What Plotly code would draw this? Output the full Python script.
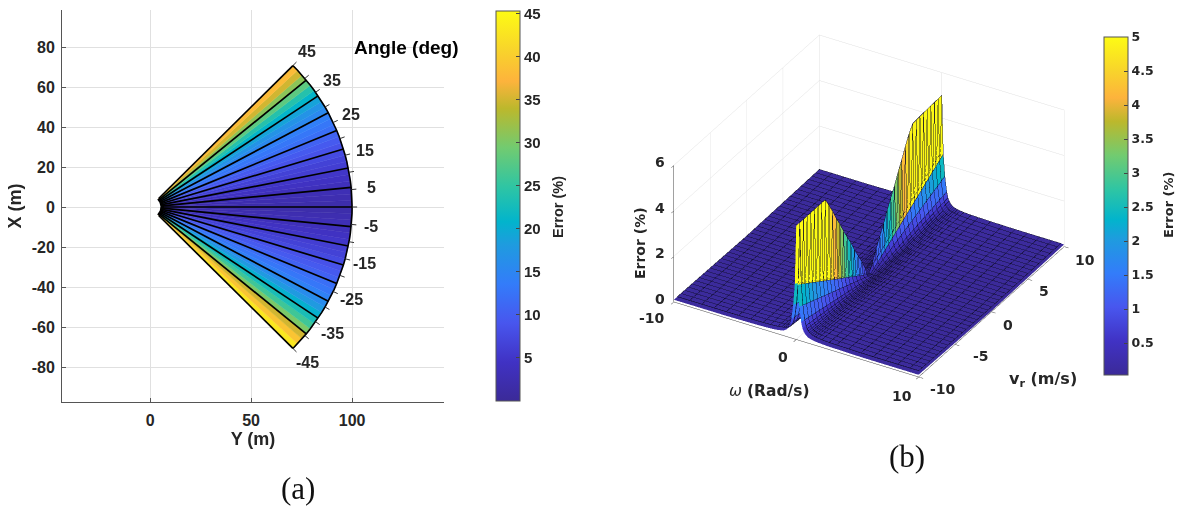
import numpy as np
import plotly.graph_objects as go
from plotly.colors import sample_colorscale

W, H = 1179, 506

# ---------- panel (a) data ----------
band_edges_deg = [-45 + 1.875 * n for n in range(49)]
band_error = [43, 39, 35, 30, 26, 23, 20.5, 18, 16, 14.5, 13, 12,
              10.5, 9.5, 8.5, 7.5, 6.5, 6, 5, 4.3, 3.6, 3, 2.5, 2,
              2, 2.5, 3, 3.6, 4.3, 5, 6, 6.5, 7.5, 8.5, 9.5, 10.5,
              12, 13, 14, 15.5, 17, 19, 21, 24, 28, 31, 35, 38]
ray_angles_deg = [-45 + 5.625 * n for n in range(17)]
arc_tick_deg = [-45, -40, -35, -30, -25, -20, -15, -10, -5, 0, 5, 10, 15, 20, 25, 30, 35, 40, 45]
angle_labels = [45, 35, 25, 15, 5, -5, -15, -25, -35, -45]
r_inner, r_outer = 6, 100
x_ticks_a = [0, 50, 100]
y_ticks_a = [-80, -60, -40, -20, 0, 20, 40, 60, 80]
y_labels_a = ["-80", "-60", "-40", "-20", "0", "20", "40", "60", "80"]
cb_ticks_a = [5, 10, 15, 20, 25, 30, 35, 40, 45]

# ---------- panel (b) data ----------
omega = [-10, -9, -8, -7, -6, -5, -4, -3, -2.4, -1.8, -1.5, -1.3, -1.15, -1, -0.9, -0.8, -0.7, -0.6, -0.5, -0.4, -0.25, -0.12, 0,
         0.12, 0.25, 0.4, 0.5, 0.6, 0.7, 0.8, 0.9, 1, 1.15, 1.3, 1.5, 1.8, 2.4, 3, 4, 5, 6, 7, 8, 9, 10]
vr = [-10, -9.5, -9, -8.5, -8, -7.5, -7, -6.5, -6, -5.5, -5, -4.5, -4, -3.5, -3, -2.5, -2, -1.5, -1, -0.5, 0,
      0.5, 1, 1.5, 2, 2.5, 3, 3.5, 4, 4.5, 5, 5.5, 6, 6.5, 7, 7.5, 8, 8.5, 9, 9.5, 10]
# error on the ridge (omega = 0), one value per vr
ridge_error = [5, 5, 5, 5, 5, 5, 5, 5, 5, 4.6, 4.2, 3.75, 3.35, 2.9, 2.5, 2.1, 1.65, 1.25, 0.85, 0.4, 0.03,
               0.4, 0.85, 1.25, 1.65, 2.1, 2.5, 2.9, 3.35, 3.75, 4.2, 4.6, 4.9, 4.92, 4.94, 4.95, 4.96, 4.97, 4.98, 4.99, 5]
# error at |vr| = 10 away from the ridge, one value per omega
edge_error = [0.065, 0.065, 0.065, 0.065, 0.065, 0.07, 0.08, 0.09, 0.1, 0.12, 0.14, 0.16, 0.18, 0.2, 0.24, 0.28, 0.34, 0.42, 0.55, 0.8, 1.45, 2.4, 5,
              2.4, 1.45, 0.8, 0.55, 0.42, 0.34, 0.28, 0.24, 0.2, 0.18, 0.16, 0.14, 0.12, 0.1, 0.09, 0.08, 0.07, 0.065, 0.065, 0.065, 0.065, 0.065]
floor_error = 0.03
cb_ticks_b = [0.5, 1, 1.5, 2, 2.5, 3, 3.5, 4, 4.5, 5]
cb_labels_b = ["0.5", "1", "1.5", "2", "2.5", "3", "3.5", "4", "4.5", "5"]
omega_ticks = [-10, 0, 10]
vr_ticks = [-10, -5, 0, 5, 10]
z_ticks = [0, 2, 4, 6]

scale = [[0, "#3b2a98"], [0.1, "#4032c4"], [0.2, "#4856ee"], [0.3, "#337cfa"], [0.4, "#1f9bdf"],
         [0.46, "#02b4cc"], [0.55, "#2fc5a3"], [0.65, "#72cb70"], [0.75, "#bcb82c"], [0.82, "#fdb33c"],
         [0.9, "#f8d42b"], [1, "#fdfb14"]]

INK = "#262626"
BF = "DejaVu Sans"
AF = "Liberation Sans"
GRID = "#e0e0e0"
VIEW = np.array([0.43, -0.735, 0.524])
ASPECT = dict(x=1.525, y=1.55, z=0.862)


def px(x):
    return x / W


def py(y):
    return 1 - y / H


def note(x, y, text, size, color=INK, family=BF, **kw):
    return dict(x=px(x), y=py(y), xref="paper", yref="paper", text=text, showarrow=False,
                xanchor="center", yanchor="middle", font=dict(family=family, size=size, color=color), **kw)


fig = go.Figure()

# ---------- panel (a) ----------
for lo, hi, val in zip(band_edges_deg[:-1], band_edges_deg[1:], band_error):
    a = np.radians([lo, hi, hi, lo, lo])
    r = np.array([r_inner, r_inner, r_outer, r_outer, r_inner])
    col = sample_colorscale(scale, [val / 45.3])[0]
    fig.add_trace(go.Scatter(x=r * np.cos(a), y=r * np.sin(a), mode="lines", fill="toself",
                             fillcolor=col, line=dict(width=0.5, color=col), hoverinfo="skip",
                             showlegend=False, xaxis="x", yaxis="y"))

rx, ry = [], []
for d in ray_angles_deg:
    a = np.radians(d)
    rx += [r_inner * np.cos(a), r_outer * np.cos(a), None]
    ry += [r_inner * np.sin(a), r_outer * np.sin(a), None]
fig.add_trace(go.Scatter(x=rx, y=ry, mode="lines", line=dict(color="black", width=1.7),
                         hoverinfo="skip", showlegend=False))
arc_deg = np.array(band_edges_deg)
for rad, w in ((r_outer, 1.6), (r_inner, 3.5)):
    fig.add_trace(go.Scatter(x=rad * np.cos(np.radians(arc_deg)), y=rad * np.sin(np.radians(arc_deg)),
                             mode="lines", line=dict(color="black", width=w), hoverinfo="skip", showlegend=False))
tx, ty = [], []
for d in arc_tick_deg:
    a = np.radians(d)
    tx += [r_outer * np.cos(a), 102.5 * np.cos(a), None]
    ty += [r_outer * np.sin(a), 102.5 * np.sin(a), None]
fig.add_trace(go.Scatter(x=tx, y=ty, mode="lines", line=dict(color="#333", width=1),
                         hoverinfo="skip", showlegend=False))
fig.add_trace(go.Scatter(x=[0, 0], y=[0, 0], mode="markers",
                         marker=dict(size=1, opacity=0, color=[0, 45.3], coloraxis="coloraxis"),
                         hoverinfo="skip", showlegend=False))

annotations = []
for d in angle_labels:
    a = np.radians(d)
    annotations.append(dict(x=110 * np.cos(a), y=110 * np.sin(a), xref="x", yref="y", text=f"<b>{d}</b>",
                            showarrow=False, xanchor="center", yanchor="middle",
                            font=dict(family=AF, size=16, color=INK)))
annotations.append(note(406, 47, "<b>Angle (deg)</b>", 19, color="black", family=AF))
annotations.append(note(298, 488, "(a)", 31, color="#111", family="Liberation Serif"))
annotations.append(note(907, 456, "(b)", 31, color="#111", family="Liberation Serif"))
annotations.append(note(769, 391, "<i>ω</i> <b>(Rad/s)</b>", 15.5))
annotations.append(note(1043, 379, "<b>v<sub>r</sub> (m/s)</b>", 16))
annotations.append(note(640, 243, "<b>Error (%)</b>", 14, textangle=-90))
annotations.append(note(558, 207, "<b>Error (%)</b>", 14.5, family=AF, textangle=-90))
annotations.append(note(1168, 205, "<b>Error (%)</b>", 13, textangle=-90))

# ---------- panel (b) ----------
nv, nw = len(vr), len(omega)
vabs_frac = np.abs(np.array(vr)) / 10.0
Z = np.zeros((nv, nw))
for j, w in enumerate(omega):
    if w == 0:
        Z[:, j] = ridge_error
    else:
        Z[:, j] = floor_error + vabs_frac * edge_error[j]
XX, YY = np.meshgrid(omega, vr)
idx = lambda r, c: r * nw + c
I, J, K, C = [], [], [], []
for r in range(nv - 1):
    for c in range(nw - 1):
        a, b, d, e = idx(r, c), idx(r, c + 1), idx(r + 1, c + 1), idx(r + 1, c)
        val = max(Z[r, c], Z[r, c + 1], Z[r + 1, c], Z[r + 1, c + 1])
        I += [a, a]
        J += [b, d]
        K += [d, e]
        C += [val, val]
fig.add_trace(go.Mesh3d(x=XX.ravel(), y=YY.ravel(), z=Z.ravel(), i=I, j=J, k=K, intensity=C,
                        intensitymode="cell", coloraxis="coloraxis2", flatshading=True,
                        lighting=dict(ambient=1, diffuse=0, specular=0, roughness=1, fresnel=0),
                        hoverinfo="skip", scene="scene"))
# mesh wires are lifted towards the viewer so they sit in front of the faces without moving on screen
lift = 0.05
dxl = 20 / ASPECT["x"] * VIEW[0] * lift
dyl = 20 / ASPECT["y"] * VIEW[1] * lift
dzl = 6 / ASPECT["z"] * VIEW[2] * lift
XL = np.clip(XX + dxl, -10, 10)
YL = np.clip(YY + dyl, -10, 10)
ZL = Z + dzl
lx, ly, lz = [], [], []
for r in range(nv):
    lx += list(XL[r]) + [None]
    ly += list(YL[r]) + [None]
    lz += list(ZL[r]) + [None]
for c in range(nw):
    lx += list(XL[:, c]) + [None]
    ly += list(YL[:, c]) + [None]
    lz += list(ZL[:, c]) + [None]
fig.add_trace(go.Scatter3d(x=lx, y=ly, z=lz, mode="lines", line=dict(color="rgba(10,10,30,0.85)", width=1),
                           hoverinfo="skip", showlegend=False, scene="scene"))


def axis3d(rng, vals):
    return dict(range=rng, tickvals=vals, showticklabels=False, title=dict(text=""),
                showbackground=False, showgrid=True, gridcolor=GRID, gridwidth=1, zeroline=False,
                showline=True, linecolor="#444", linewidth=1, ticks="outside", ticklen=5, tickcolor="#444",
                showspikes=False)


def lab3d(x, y, z, text, sx, sy):
    return dict(x=x, y=y, z=z, text=f"<b>{text}</b>", showarrow=False, xshift=sx, yshift=-sy,
                xanchor="center", yanchor="middle", font=dict(family=BF, size=14, color=INK))


scene_notes = []
for v, (sx, sy) in zip(omega_ticks, [(-22, 16), (-13, 18), (-17, 19)]):
    scene_notes.append(lab3d(v, -10, 0, v, sx, sy))
for v, (sx, sy) in zip(vr_ticks, [(24, 12), (26, 12), (17, 13), (16, 12), (21, 13)]):
    scene_notes.append(lab3d(10, v, 0, v, sx, sy))
for v in z_ticks:
    scene_notes.append(lab3d(-10, -10, v, v, -14, -3))

fig.update_layout(
    width=W, height=H, margin=dict(l=0, r=0, t=0, b=0, autoexpand=False), paper_bgcolor="white", plot_bgcolor="white",
    showlegend=False, hovermode=False,
    xaxis=dict(domain=[px(62), px(444)], range=[-43.6, 145.5], tickvals=x_ticks_a, showgrid=True, gridcolor=GRID,
               zeroline=False, showline=True, linecolor="#555", ticks="inside", ticklen=4, tickcolor="#555",
               ticklabelstandoff=4, tickfont=dict(family=AF, size=16, color=INK, weight="bold"),
               title=dict(text="<b>Y (m)</b>", font=dict(family=AF, size=18, color=INK), standoff=4)),
    yaxis=dict(domain=[py(402), py(10)], range=[-97.5, 98.5], tickvals=y_ticks_a, ticktext=y_labels_a, showgrid=True, gridcolor=GRID,
               zeroline=False, showline=True, linecolor="#555", ticks="inside", ticklen=4, tickcolor="#555",
               ticklabelstandoff=3, tickfont=dict(family=AF, size=16, color=INK, weight="bold"),
               title=dict(text="<b>X (m)</b>", font=dict(family=AF, size=18, color=INK), standoff=5)),
    coloraxis=dict(colorscale=scale, cmin=0, cmax=45.3,
                   colorbar=dict(x=px(496), xanchor="left", y=py(206), yanchor="middle", len=390 / H, lenmode="fraction",
                                 xpad=0, ypad=0, thickness=24, thicknessmode="pixels", outlinecolor="#555", outlinewidth=1,
                                 tickvals=cb_ticks_a, ticks="inside", ticklen=4, tickcolor="#444", tickprefix=" ",
                                 tickfont=dict(family=AF, size=15, color=INK, weight="bold"))),
    coloraxis2=dict(colorscale=scale, cmin=0.03, cmax=5,
                    colorbar=dict(x=px(1104), xanchor="left", y=py(206), yanchor="middle", len=338 / H, lenmode="fraction",
                                  xpad=0, ypad=0, thickness=24, thicknessmode="pixels", outlinecolor="#555", outlinewidth=1,
                                  tickvals=cb_ticks_b, ticktext=cb_labels_b, ticks="inside", ticklen=4, tickcolor="#444", tickprefix=" ",
                                  tickfont=dict(family=BF, size=12.5, color=INK, weight="bold"))),
    scene=dict(
        domain=dict(x=[px(640), px(1098)], y=[py(392), py(20)]),
        xaxis=axis3d([-10, 10], omega_ticks),
        yaxis=axis3d([-10, 10], vr_ticks),
        zaxis=axis3d([0, 6], z_ticks),
        aspectmode="manual", aspectratio=ASPECT,
        camera=dict(projection=dict(type="orthographic"), up=dict(x=0, y=0, z=1), center=dict(x=0, y=0, z=0),
                    eye=dict(x=VIEW[0] * 1.5, y=VIEW[1] * 1.5, z=VIEW[2] * 1.5)),
        bgcolor="white",
        annotations=scene_notes,
    ),
    annotations=annotations,
)

fig.write_html("out.html", config={"displayModeBar": False},
               post_script="document.body.style.margin='0';document.body.style.overflow='hidden';")
